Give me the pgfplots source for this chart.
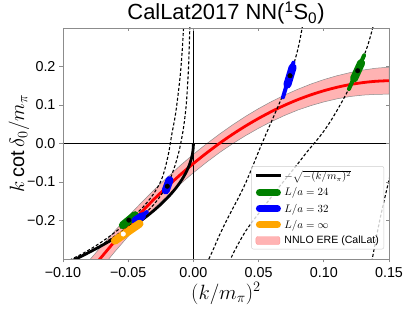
\documentclass[border=0pt]{standalone}
\usepackage{fontspec}
\setmainfont{Liberation Sans}
\usepackage{pgfplots}
\pgfplotsset{compat=1.18}
\definecolor{mgreen}{HTML}{008000}
\definecolor{morange}{HTML}{FFA500}
\definecolor{bandc}{HTML}{FFB3B3}
\definecolor{framec}{HTML}{8C8C8C}
\begin{document}
\begin{tikzpicture}
\begin{axis}[name=ax, scale only axis, width=326bp, height=231bp,
 xmin=-0.1, xmax=0.15, ymin=-0.3, ymax=0.3,
 xtick={-0.1,-0.05,0,0.05,0.1,0.15},
 xticklabels={−0.10,−0.05,0.00,0.05,0.10,0.15},
 ytick={-0.2,-0.1,0,0.1,0.2},
 yticklabels={−0.2,−0.1,0.0,0.1,0.2},
 xtick pos=left, ytick pos=left, tick align=outside,
 major tick length=3.5bp,
 every tick/.style={framec, line width=0.8bp},
 axis line style={framec, line width=0.8bp},
 tick label style={font=\fontsize{14.4}{16}\selectfont, black},
 xticklabel style={yshift=-1.5bp},
 yticklabel style={xshift=-0.5bp},
 title={CalLat2017 NN(\textsuperscript{1}S\textsubscript{0})},
 title style={font=\fontsize{22}{26}\selectfont, anchor=base, at={(0.5,1)}, yshift=2.5bp},
 xlabel={$(k/m_\pi)^2$},
 xlabel style={font=\fontsize{20}{24}\selectfont, at={(axis description cs:0.5,-0.15)}, anchor=center},
 ylabel={$k\cot\delta_0/m_\pi$},
 ylabel style={font=\fontsize{20}{24}\selectfont, at={(axis description cs:-0.135,0.5)}, anchor=center},
 legend cell align=left,
 legend style={at={(rel axis cs:0.985,0.042)}, anchor=south east,
   fill=white, fill opacity=0.8, draw opacity=1, text opacity=1,
   draw=black!20, rounded corners=2bp,
   font=\fontsize{10.6}{12.5}\selectfont,
   inner xsep=3bp, inner ysep=2bp, row sep=2.4bp},
]
% legend entries
\addlegendimage{legend image code/.code={\draw[black,line width=3bp] (0bp,0bp)--(25bp,0bp);}}
\addlegendentry{$-\sqrt{-(k/m_\pi)^2}$}
\addlegendimage{legend image code/.code={\draw[mgreen,line width=7bp,line cap=round,draw opacity=1] (3.5bp,0bp)--(21.5bp,0bp);}}
\addlegendentry{$L/a=24$}
\addlegendimage{legend image code/.code={\draw[blue,line width=7bp,line cap=round,draw opacity=1] (3.5bp,0bp)--(21.5bp,0bp);}}
\addlegendentry{$L/a=32$}
\addlegendimage{legend image code/.code={\draw[morange,line width=7bp,line cap=round,draw opacity=1] (3.5bp,0bp)--(21.5bp,0bp);}}
\addlegendentry{$L/a=\infty$}
\addlegendimage{legend image code/.code={\draw[fill=bandc,draw=bandc!85!red,fill opacity=1] (0bp,-4bp) rectangle (24bp,4bp);}}
\addlegendentry{NNLO ERE (CalLat)}

% ERE band
\addplot[fill=bandc, draw=black!45, line width=0.5bp, forget plot] coordinates {
(-0.09,-0.3467) (-0.08,-0.304) (-0.07,-0.265) (-0.06,-0.226) (-0.05,-0.189) (-0.04,-0.154)
(-0.03,-0.120) (-0.02,-0.088) (-0.01,-0.057) (0,-0.028) (0.01,-0.001) (0.02,0.0244)
(0.03,0.0483) (0.04,0.0704) (0.05,0.0907) (0.06,0.1092) (0.07,0.1259) (0.08,0.1408)
(0.09,0.1543) (0.10,0.166) (0.11,0.1759) (0.12,0.184) (0.13,0.1907) (0.14,0.1956) (0.15,0.1982)
(0.15,0.1282) (0.14,0.1276) (0.13,0.1257) (0.12,0.122) (0.11,0.1159) (0.10,0.108) (0.09,0.0983)
(0.08,0.0868) (0.07,0.0729) (0.06,0.0572) (0.05,0.0397) (0.04,0.0204) (0.03,-0.0007)
(0.02,-0.0236) (0.01,-0.049) (0,-0.076) (-0.01,-0.105) (-0.02,-0.136) (-0.03,-0.168)
(-0.04,-0.204) (-0.05,-0.241) (-0.06,-0.280) (-0.07,-0.321) (-0.08,-0.364) (-0.09,-0.4087)
} -- cycle;
% zero lines
\addplot[black, line width=0.9bp, forget plot] coordinates {(-0.1,0) (0.15,0)};
\addplot[black, line width=0.9bp, forget plot] coordinates {(0,-0.3) (0,0.3)};
% ERE central
\addplot[red, line width=2.8bp, smooth, forget plot] coordinates {
(-0.09,-0.3777) (-0.08,-0.334) (-0.07,-0.293) (-0.06,-0.253) (-0.05,-0.215) (-0.04,-0.179)
(-0.03,-0.144) (-0.02,-0.112) (-0.01,-0.081) (0,-0.052) (0.01,-0.025) (0.02,0.0004)
(0.03,0.0238) (0.04,0.0454) (0.05,0.0652) (0.06,0.0832) (0.07,0.0994) (0.08,0.1138)
(0.09,0.1263) (0.10,0.137) (0.11,0.1459) (0.12,0.153) (0.13,0.1582) (0.14,0.1616) (0.15,0.1632)};
% Luscher curves (dashed)
\addplot[black, line width=1.1bp, dash pattern=on 3bp off 2bp, smooth, forget plot] coordinates {
(-0.095,-0.303) (-0.085,-0.286) (-0.075,-0.266) (-0.065,-0.243) (-0.055,-0.217) (-0.0495,-0.201)
(-0.04,-0.170) (-0.035,-0.151) (-0.03,-0.128) (-0.025,-0.098) (-0.022,-0.068) (-0.019,-0.025)
(-0.0165,0.025) (-0.014,0.07) (-0.012,0.12) (-0.010,0.18) (-0.0085,0.245) (-0.0075,0.305)};
\addplot[black, line width=1.1bp, dash pattern=on 3bp off 2bp, smooth, forget plot] coordinates {
(-0.092,-0.301) (-0.08,-0.281) (-0.07,-0.262) (-0.06,-0.240) (-0.05,-0.216) (-0.04,-0.190)
(-0.035,-0.175) (-0.03,-0.157) (-0.025,-0.135) (-0.02,-0.108) (-0.017,-0.085) (-0.014,-0.056)
(-0.011,-0.02) (-0.0085,0.022) (-0.007,0.055) (-0.0055,0.10) (-0.0045,0.15) (-0.0037,0.20)
(-0.0032,0.25) (-0.0027,0.305)};
\addplot[black, line width=1.1bp, dash pattern=on 3bp off 2bp, smooth, forget plot] coordinates {
(0.0095,-0.325) (0.0115,-0.303) (0.015,-0.277) (0.02,-0.238) (0.025,-0.203) (0.03,-0.170)
(0.035,-0.138) (0.04,-0.103) (0.045,-0.063) (0.05,-0.021) (0.055,0.019) (0.06,0.058)
(0.065,0.097) (0.07,0.138) (0.0741,0.176) (0.078,0.218) (0.081,0.258) (0.0835,0.302) (0.085,0.33)};
\addplot[black, line width=1.1bp, dash pattern=on 3bp off 2bp, smooth, forget plot] coordinates {
(0.026,-0.32) (0.0285,-0.30) (0.032,-0.276) (0.036,-0.251) (0.04,-0.228) (0.045,-0.204)
(0.05,-0.182) (0.055,-0.160) (0.06,-0.138) (0.065,-0.116) (0.07,-0.095) (0.075,-0.074)
(0.08,-0.053) (0.085,-0.031) (0.09,-0.010) (0.095,0.010) (0.10,0.032) (0.105,0.057)
(0.11,0.085) (0.115,0.115) (0.12,0.147) (0.126,0.189) (0.13,0.221) (0.134,0.258)
(0.1375,0.30) (0.139,0.32)};
\addplot[black, line width=1.1bp, dash pattern=on 3bp off 2bp, smooth, forget plot] coordinates {
(0.1362,-0.32) (0.1375,-0.294) (0.1405,-0.24) (0.1435,-0.19) (0.1465,-0.145) (0.150,-0.095) (0.152,-0.067)};
% unitarity curve -sqrt(-x)
\addplot[black, line width=2.8bp, forget plot] coordinates {
(-0.095,-0.3082) (-0.09,-0.3) (-0.085,-0.2915) (-0.08,-0.2828) (-0.075,-0.2739) (-0.07,-0.2646)
(-0.065,-0.2550) (-0.06,-0.2449) (-0.055,-0.2345) (-0.05,-0.2236) (-0.045,-0.2121) (-0.04,-0.2)
(-0.035,-0.1871) (-0.03,-0.1732) (-0.025,-0.1581) (-0.02,-0.1414) (-0.017,-0.1304)
(-0.014,-0.1183) (-0.012,-0.1095) (-0.01,-0.1) (-0.008,-0.0894) (-0.006,-0.0775)
(-0.005,-0.0707) (-0.004,-0.0632) (-0.003,-0.0548) (-0.002,-0.0447) (-0.0015,-0.0387)
(-0.001,-0.0316) (-0.0006,-0.0245) (-0.0003,-0.0173) (-0.0001,-0.0100) (-0.00002,-0.0045) (0,0)};
% L/a=24 (green)
\addplot[mgreen, line width=8bp, line cap=round, forget plot] coordinates {(-0.0541,-0.2122) (-0.0448,-0.1862)};
\addplot[mgreen, line width=4bp, line cap=round, forget plot] coordinates {(0.1193,0.1416) (0.1309,0.229)};
\addplot[mgreen, line width=8bp, line cap=round, forget plot] coordinates {(0.1232,0.1688) (0.1286,0.2088)};
% L/a=32 (blue)
\addplot[blue, line width=4bp, line cap=round, forget plot] coordinates {(-0.0445,-0.200) (-0.0357,-0.178)};
\addplot[blue, line width=8bp, line cap=round, forget plot] coordinates {(-0.0445,-0.200) (-0.0395,-0.189)};
\addplot[blue, line width=8bp, line cap=round, forget plot] coordinates {(-0.0212,-0.122) (-0.0183,-0.095)};
\addplot[blue, line width=4bp, line cap=round, forget plot] coordinates {(0.0687,0.12) (0.0767,0.21)};
\addplot[blue, line width=8bp, line cap=round, forget plot] coordinates {(0.0721,0.153) (0.0761,0.198)};
% L/a=inf (orange)
\addplot[morange, line width=8bp, line cap=round, forget plot] coordinates {(-0.0602,-0.2525) (-0.0413,-0.2083)};
% central dots
\addplot[only marks, mark=*, mark size=2.3bp, black, forget plot] coordinates {(-0.0495,-0.199) (0.126,0.189) (-0.020,-0.111) (0.0741,0.176)};
\addplot[only marks, mark=*, mark size=2.3bp, white, forget plot] coordinates {(-0.0538,-0.235)};
\end{axis}
\begin{axis}[scale only axis, width=326bp, height=231bp,
 xmin=-0.1, xmax=0.15, ymin=-0.3, ymax=0.3,
 xtick={-0.1,-0.05,0,0.05,0.1,0.15}, ytick={-0.2,-0.1,0,0.1,0.2},
 xticklabels={}, yticklabels={},
 xtick pos=right, ytick pos=right, tick align=inside,
 major tick length=3.5bp,
 every tick/.style={framec, line width=0.8bp},
 axis line style={framec, line width=0.8bp}]
\end{axis}
\pgfresetboundingbox
\path[use as bounding box] ([xshift=-63bp,yshift=-52bp]ax.south west) rectangle ([xshift=18bp,yshift=28bp]ax.north east);
\end{tikzpicture}
\end{document}
